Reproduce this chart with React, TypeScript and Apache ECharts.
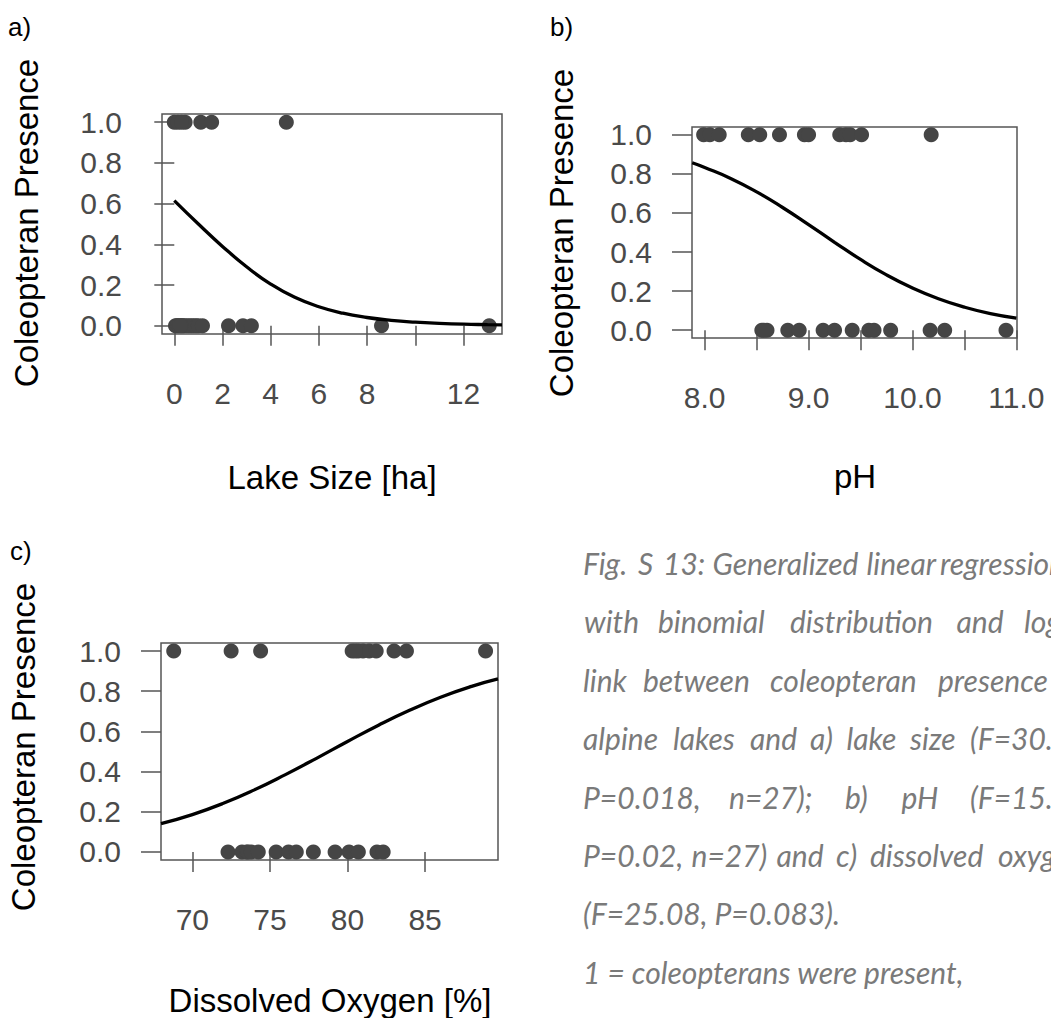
import React, { useEffect, useRef } from "react";
import * as echarts from "echarts";

// ---------- data ----------
const yTicks = [0, 0.2, 0.4, 0.6, 0.8, 1.0];

// a) Lake size [ha]
const sizeTicks = [0, 2, 4, 6, 8, 10, 12];
const sizeLabels = [0, 2, 4, 6, 8, 12];
const sizePresent = [0.0, 0.15, 0.45, 1.1, 1.55, 4.65, 0.3];
const sizeAbsent = [0.05, 0.1, 0.15, 0.2, 0.3, 0.35, 0.4, 0.5, 0.6, 0.7, 0.8, 0.9, 1.0, 1.17, 2.25, 2.85, 3.2, 8.6, 13.07, 0.25];
const sizeCurveX = [0, 1, 2, 3, 4, 5, 6, 7, 8, 9, 10, 11, 12, 13, 13.6];
const sizeCurveP = [0.615, 0.5, 0.39, 0.29, 0.205, 0.14, 0.094, 0.062, 0.041, 0.027, 0.018, 0.012, 0.008, 0.006, 0.005];

// b) pH
const phTicks = [8.0, 8.5, 9.0, 9.5, 10.0, 10.5, 11.0];
const phLabels = [8.0, 9.0, 10.0, 11.0];
const phPresent = [7.99, 8.05, 8.14, 8.42, 8.53, 8.72, 8.96, 9.0, 9.3, 9.36, 9.4, 9.51, 10.18];
const phAbsent = [8.55, 8.6, 8.8, 8.91, 9.14, 9.25, 9.42, 9.58, 9.63, 9.79, 10.17, 10.31, 10.9, 8.57];
const phCurveX = [7.88, 8.0, 8.25, 8.5, 8.75, 9.0, 9.25, 9.5, 9.75, 10.0, 10.25, 10.5, 10.75, 11.0];
const phCurveP = [0.857, 0.833, 0.777, 0.708, 0.628, 0.54, 0.45, 0.362, 0.283, 0.216, 0.161, 0.118, 0.085, 0.062];

// c) Dissolved oxygen [%]
const oxTicks = [70, 75, 80, 85];
const oxLabels = [70, 75, 80, 85];
const oxPresent = [68.8, 72.5, 74.4, 80.3, 80.7, 81.0, 81.4, 81.85, 83.0, 83.8, 88.9, 80.5];
const oxAbsent = [72.3, 73.2, 73.5, 73.6, 73.8, 74.25, 75.4, 76.2, 76.7, 77.8, 79.2, 80.1, 80.7, 81.9, 82.3];
const oxCurveX = [67.98, 70, 72, 74, 76, 78, 80, 82, 84, 86, 88, 89.7];
const oxCurveP = [0.141, 0.186, 0.242, 0.309, 0.385, 0.466, 0.55, 0.631, 0.705, 0.77, 0.824, 0.861];

const yTitle = "Coleopteran Presence";
const xTitles = ["Lake Size [ha]", "pH", "Dissolved Oxygen [%]"];
const panelTags = ["a)", "b)", "c)"];

const captionLines: string[][] = [
  ["Fig.", "S", "13:", "Generalized", "linear", "regression"],
  ["with", "binomial", "distribution", "and", "logit"],
  ["link", "between", "coleopteran", "presence"],
  ["alpine", "lakes", "and", "a)", "lake", "size", "(F=30."],
  ["P=0.018,", "n=27);", "b)", "pH", "(F=15."],
  ["P=0.02,", "n=27)", "and", "c)", "dissolved", "oxygen"],
  ["(F=25.08, P=0.083)."],
  ["1 = coleopterans were present,"],
];

// ---------- layout ----------
const captionX: number[][] = [
  [583, 638, 663, 712.5, 866.5, 940],
  [584, 658, 790, 956.5, 1024],
  [583, 643, 770, 938],
  [583, 673, 750, 810, 846.5, 910, 970],
  [583, 729, 845, 901.5, 970],
  [583, 691.5, 776.5, 836, 870, 998],
  [583],
  [583],
];

const FONT = "'Liberation Sans', Arial, sans-serif";
const AX = "#555555";
const PT = "#454545";

const grids = [
  { left: 162, top: 114, width: 340, height: 220 },
  { left: 692, top: 127, width: 325, height: 211 },
  { left: 161, top: 643, width: 337, height: 217 },
];

const xRanges = [
  [-0.51, 13.6],
  [7.878, 11.006],
  [67.98, 89.7],
];

export default function App() {
  const ref = useRef<HTMLDivElement>(null);
  useEffect(() => {
    document.body.style.margin = "0";
    document.body.style.overflow = "hidden";
    const chart = echarts.init(ref.current!, null, { renderer: "svg" });

    const xTickSets = [sizeTicks, phTicks, oxTicks];
    const xLabelSets = [sizeLabels, phLabels, oxLabels];
    const fmts = [
      (v: number) => String(v),
      (v: number) => v.toFixed(1),
      (v: number) => String(v),
    ];
    const presents = [sizePresent, phPresent, oxPresent];
    const absents = [sizeAbsent, phAbsent, oxAbsent];
    const curves = [
      [sizeCurveX, sizeCurveP],
      [phCurveX, phCurveP],
      [oxCurveX, oxCurveP],
    ];

    const xAxis = grids.map((_, i) => ({
      type: "value",
      gridIndex: i,
      min: xRanges[i][0],
      max: xRanges[i][1],
      axisLine: { show: false },
      splitLine: { show: false },
      axisTick: {
        show: true,
        inside: false,
        length: 20,
        customValues: xTickSets[i],
        lineStyle: { color: AX, width: 1.5 },
      },
      axisLabel: {
        customValues: xLabelSets[i],
        formatter: fmts[i],
        margin: 44,
        fontSize: 30,
        fontFamily: FONT,
        color: "#4a4a4a",
        hideOverlap: false,
      },
    }));

    const yAxis = grids.map((_, i) => ({
      type: "value",
      gridIndex: i,
      min: -0.04,
      max: 1.04,
      axisLine: { show: false },
      splitLine: { show: false },
      axisTick: {
        show: true,
        inside: false,
        length: 20,
        customValues: yTicks,
        lineStyle: { color: AX, width: 1.5 },
      },
      axisLabel: {
        customValues: yTicks,
        formatter: (v: number) => v.toFixed(1),
        margin: 40,
        fontSize: 30,
        fontFamily: FONT,
        color: "#4a4a4a",
      },
    }));

    const series: any[] = [];
    grids.forEach((_, i) => {
      const pts = [
        ...absents[i].map((x) => [x, 0]),
        ...presents[i].map((x) => [x, 1]),
      ];
      series.push({
        type: "scatter",
        xAxisIndex: i,
        yAxisIndex: i,
        data: pts,
        symbol: "circle",
        symbolSize: 15,
        clip: false,
        itemStyle: { color: PT, opacity: 1 },
        z: 2,
      });
      const [cx, cy] = curves[i];
      series.push({
        type: "line",
        xAxisIndex: i,
        yAxisIndex: i,
        data: cx.map((x, k) => [x, cy[k]]),
        smooth: true,
        showSymbol: false,
        symbol: "none",
        lineStyle: { color: "#000", width: 3.3 },
        z: 3,
      });
    });

    const graphic: any[] = [];
    const yTitlePos = [
      [26, 223],
      [561, 233],
      [23, 747],
    ];
    yTitlePos.forEach(([x, y]) =>
      graphic.push({
        type: "text",
        x,
        y,
        rotation: Math.PI / 2,
        style: {
          text: yTitle,
          fontSize: 33,
          fontFamily: FONT,
          fill: "#000",
          align: "center",
          verticalAlign: "middle",
        },
      })
    );
    const xTitlePos = [
      [332, 477],
      [855, 476],
      [330, 1000],
    ];
    xTitlePos.forEach(([x, y], i) =>
      graphic.push({
        type: "text",
        x,
        y,
        style: {
          text: xTitles[i],
          fontSize: 33,
          fontFamily: FONT,
          fill: "#000",
          align: "center",
          verticalAlign: "middle",
        },
      })
    );
    const tagPos = [
      [8, 27],
      [550, 27],
      [10, 551],
    ];
    tagPos.forEach(([x, y], i) =>
      graphic.push({
        type: "text",
        x,
        y,
        style: {
          text: panelTags[i],
          fontSize: 26,
          fontFamily: FONT,
          fill: "#000",
          align: "left",
          verticalAlign: "middle",
        },
      })
    );
    captionLines.forEach((words, li) => {
      const y = 573 + 58.4 * li - 10;
      words.forEach((w, wi) =>
        graphic.push({
          type: "text",
          x: captionX[li][wi],
          y,
          style: {
            text: w,
            fontSize: 30,
            fontStyle: "italic",
            fontFamily: "Lato, 'Open Sans', sans-serif",
            fill: "#7a7a7a",
            align: "left",
            verticalAlign: "middle",
          },
        })
      );
    });

    chart.setOption({
      animation: false,
      backgroundColor: "#fff",
      grid: grids.map((g) => ({
        ...g,
        show: true,
        borderColor: AX,
        borderWidth: 1.5,
        backgroundColor: "transparent",
        containLabel: false,
      })),
      xAxis,
      yAxis,
      series,
      graphic,
    });
    return () => chart.dispose();
  }, []);
  return (
    <div
      ref={ref}
      style={{ position: "absolute", left: 0, top: 0, width: 1051, height: 1018 }}
    />
  );
}
